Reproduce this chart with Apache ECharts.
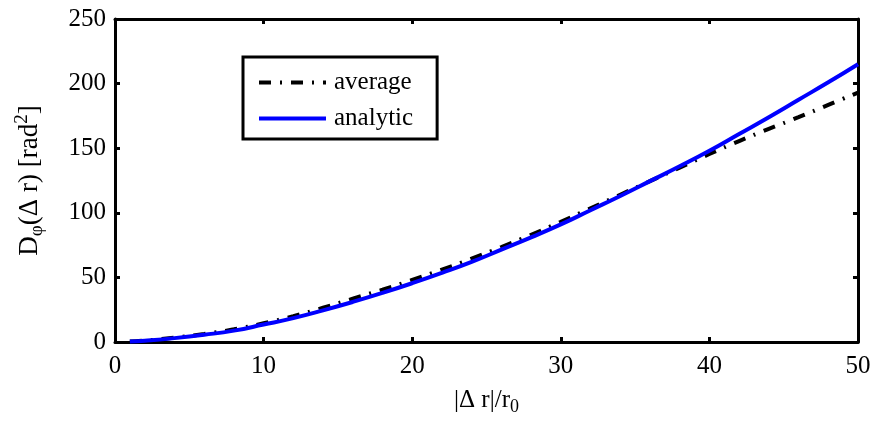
<!DOCTYPE html>
<html>
<head>
<meta charset="utf-8">
<script src="https://cdn.jsdelivr.net/npm/echarts@6/dist/echarts.min.js"></script>
<style>html,body{margin:0;padding:0;background:#fff}#c{width:877px;height:421px}</style>
</head>
<body>
<div id="c"></div>
<script>
const xValues = [1,2,4,6,8,10,12,14,16,18,20,22,24,26,28,30,32,34,36,38,40,42,44,46,48,50];
const averageValues = [0.3,1.1,3.3,6.2,9.8,14.5,20,26.5,33.5,40.5,48,56,64.5,73.5,83,93,103.5,114,124.5,135,145.5,155.5,165,174,183.5,193];
const analyticValues = [0.3,1.0,3.0,5.6,8.8,13.5,18.5,24.5,31,38,45.5,53.5,62,71.5,81,91,102,113,124.5,136,148,161,174,187.5,201,215];
const xTicks = [0,10,20,30,40,50];
const yTicks = [0,50,100,150,200,250];
const seriesNames = ['average','analytic'];

const F = 'Liberation Serif';
const FS = 25;
const chart = echarts.init(document.getElementById('c'));
const pairs = v => xValues.map((x,i)=>[x,v[i]]);
const axBase = {
  type:'value', splitLine:{show:false},
  axisLine:{show:true, onZero:false, lineStyle:{color:'#000', width:3}},
  axisTick:{show:true, inside:true, length:5, lineStyle:{color:'#000', width:3}},
};
chart.setOption({
  animation:false,
  backgroundColor:'#fff',
  grid:{left:115, right:19, top:19, bottom:77},
  legend:{
    data:seriesNames, orient:'vertical', left:243, top:57,
    backgroundColor:'#fff', borderColor:'#000', borderWidth:3,
    padding:[13,24,8,14], itemGap:11, itemWidth:67, itemHeight:16,
    itemStyle:{opacity:0},
    lineStyle:{width:4},
    textStyle:{fontFamily:F, fontSize:FS, color:'#000', padding:[0,0,0,3]}
  },
  xAxis:[
    Object.assign({}, axBase, {min:xTicks[0], max:xTicks[xTicks.length-1], interval:10, position:'bottom',
      axisLabel:{color:'#000', fontFamily:F, fontSize:FS, margin:12},
      name:'|Δ r|/r{sub|0}', nameLocation:'middle', nameGap:42,
      nameTextStyle:{color:'#000', fontFamily:F, fontSize:FS,
        rich:{sub:{fontFamily:F, fontSize:18, color:'#000', verticalAlign:'bottom', padding:[14,0,0,0]}}}}),
    Object.assign({}, axBase, {min:xTicks[0], max:xTicks[xTicks.length-1], interval:10, position:'top', axisLabel:{show:false}})
  ],
  yAxis:[
    Object.assign({}, axBase, {min:yTicks[0], max:yTicks[yTicks.length-1], interval:50, position:'left',
      axisLabel:{color:'#000', fontFamily:F, fontSize:FS, margin:9},
      name:'D{sub|φ}(Δ r) [rad{sup|2}]', nameLocation:'middle', nameGap:68, nameRotate:90,
      nameTextStyle:{color:'#000', fontFamily:F, fontSize:27,
        rich:{sub:{fontFamily:F, fontSize:19, color:'#000', verticalAlign:'bottom', padding:[15,0,0,0]},
              sup:{fontFamily:F, fontSize:19, color:'#000', verticalAlign:'top', padding:[0,0,13,0]}}}}),
    Object.assign({}, axBase, {min:yTicks[0], max:yTicks[yTicks.length-1], interval:50, position:'right', axisLabel:{show:false}})
  ],
  series:[
    {name:seriesNames[0], type:'line', data:pairs(averageValues), showSymbol:false, symbol:'none', smooth:true,
      lineStyle:{color:'#000', width:4, type:[12,9,2,9]}, itemStyle:{color:'#000'}},
    {name:seriesNames[1], type:'line', data:pairs(analyticValues), showSymbol:false, symbol:'none', smooth:true,
      lineStyle:{color:'#0000ff', width:4}, itemStyle:{color:'#0000ff'}}
  ]
});
</script>
</body>
</html>
